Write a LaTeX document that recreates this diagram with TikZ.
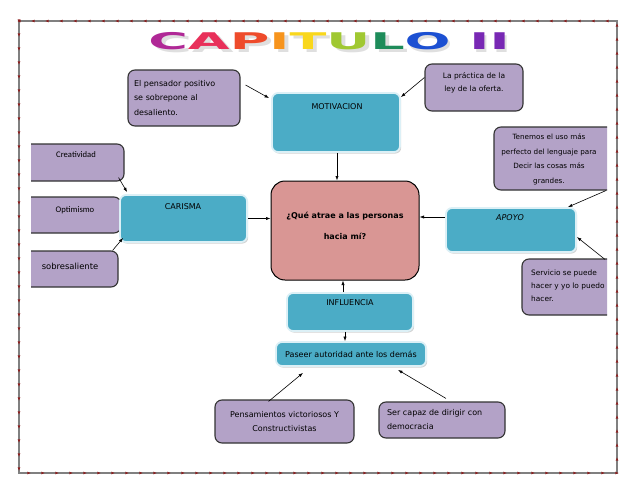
\documentclass[tikz,border=0pt]{standalone}
\usepackage{fontspec}
\setmainfont{DejaVu Sans}
\newfontfamily\calib{Carlito}
\usetikzlibrary{arrows.meta,shadows,decorations.markings,positioning}

\definecolor{lila}{RGB}{179,162,199}
\definecolor{turquesa}{RGB}{75,172,198}
\definecolor{bordeturq}{RGB}{220,240,246}
\definecolor{rosa}{RGB}{217,150,148}
\definecolor{granate}{RGB}{140,30,30}
\definecolor{tA}{RGB}{176,40,150}
\definecolor{tB}{RGB}{232,48,90}
\definecolor{tC}{RGB}{238,75,43}
\definecolor{tD}{RGB}{247,148,29}
\definecolor{tE}{RGB}{249,215,28}
\definecolor{tF}{RGB}{160,200,50}
\definecolor{tG}{RGB}{30,140,90}
\definecolor{tH}{RGB}{28,80,210}
\definecolor{tI}{RGB}{120,40,180}

\tikzset{
  cajalila/.style={draw=black!80, line width=1.1pt, fill=lila, rounded corners=7pt, inner sep=4pt},
  cajaturq/.style={draw=bordeturq, line width=1.8pt, fill=turquesa, rounded corners=6pt,
    drop shadow={shadow xshift=1.2pt, shadow yshift=-1.6pt, opacity=0.35}},
  flecha/.style={-{Latex[length=4.5pt,width=3.2pt]}, line width=0.6pt},
  letra/.style={font=\fontsize{8}{14.5}\selectfont, inner sep=0pt},
  chica/.style={font=\fontsize{7}{14.5}\selectfont, inner sep=0pt},
  marco/.style={draw=gray, line width=1.3pt,
    postaction={decorate, decoration={markings,
      mark=between positions 0 and 1 step 14pt with {\fill[granate] (-1.6pt,-1.3pt) -- (1.6pt,0pt) -- (-1.6pt,1.3pt) -- cycle;}}}}
}

\begin{document}
\begin{tikzpicture}[x=1pt, y=-1pt]
\useasboundingbox (0,0) rectangle (638,493);
% marco
\draw[marco] (19,21) rectangle (617,473);
% titulo
\node[text=gray!25] (sombra) at (332,44.5) {\scalebox{2.35}[1]{\fontsize{23}{23}\selectfont\bfseries CAPITULO II}};
\node (titulo) at (329,41) {\scalebox{2.35}[1]{\fontsize{23}{23}\selectfont\bfseries
  \textcolor{tA}{C}\textcolor{tB}{A}\textcolor{tC}{P}\textcolor{tD}{I}\textcolor{tE}{T}\textcolor{tF}{U}\textcolor{tG}{L}\textcolor{tH}{O} \textcolor{tI}{II}}};

% cajas laterales recortadas
\begin{scope}
\clip (31,0) rectangle (607,493);
\node[cajalila, minimum width=114pt, minimum height=37pt] (creat) at (67,162.5) {};
\node[cajalila, minimum width=111pt, minimum height=36pt] (optim) at (65.5,215) {};
\node[cajalila, minimum width=108pt, minimum height=36pt] (sobre) at (64,269) {};
\node[cajalila, minimum width=131pt, minimum height=63pt] (tenemos) at (559.5,158.5) {};
\node[cajalila, minimum width=108pt, minimum height=56pt] (servicio) at (576,287) {};
\node[chica, font=\calib\fontsize{8.6}{14}\selectfont] (tcreat) at (76,155) {Creatividad};
\node[chica, font=\calib\fontsize{8.6}{14}\selectfont] (toptim) at (75,210) {Optimismo};
\node[letra, font=\fontsize{8.4}{14}\selectfont] (tsobre) at (70,266) {sobresaliente};
\node[chica, font=\fontsize{7.2}{14.5}\selectfont, align=center] (ttenemos) at (549,159.5) {Tenemos el uso más\\perfecto del lenguaje para\\Decir las cosas más\\grandes.};
\node[chica, font=\fontsize{7.4}{13}\selectfont, align=left, anchor=west] (tservicio) at (531,286) {Servicio se puede\\hacer y yo lo puedo\\hacer.};
\end{scope}

\node[cajalila, minimum width=112pt, minimum height=56pt, text width=100pt, align=left, letra] (pensador) at (184,98) {El pensador positivo\\se sobrepone al\\desaliento.};
\node[cajalila, minimum width=98pt, minimum height=47pt] (oferta) at (474,87.5) {};
\node[letra, font=\fontsize{7.5}{13}\selectfont, align=center] (toferta) at (474,83) {La práctica de la\\ley de la oferta.};

\node[cajaturq, minimum width=128pt, minimum height=59pt] (motiv) at (336,122.5) {};
\node[letra] (tmotiv) at (337,107) {MOTIVACION};
\node[cajaturq, minimum width=127pt, minimum height=47pt] (caris) at (183.5,218.5) {};
\node[letra] (tcaris) at (183,207) {CARISMA};
\node[cajaturq, minimum width=130pt, minimum height=44pt] (apoyo) at (511,230) {};
\node[letra] (tapoyo) at (510,218) {\itshape APOYO};
\node[cajaturq, minimum width=126pt, minimum height=38pt] (influ) at (350,312) {};
\node[letra] (tinflu) at (350,303) {INFLUENCIA};
\node[cajaturq, minimum width=150pt, minimum height=24pt, letra] (paseer) at (351,354) {Paseer autoridad ante los demás};

\node[draw=black, line width=1pt, fill=rosa, rounded corners=14pt, minimum width=148pt, minimum height=99pt] (centro) at (345,230.5) {};
\node[letra, font=\fontsize{8}{21}\selectfont\bfseries, align=center] (tcentro) at (345,226) {¿Qué atrae a las personas\\hacia mí?};

\node[cajalila, minimum width=139pt, minimum height=43pt, align=center, letra] (pensam) at (284.5,421.5) {Pensamientos victoriosos Y\\Constructivistas};
\node[cajalila, minimum width=126pt, minimum height=36pt, text width=110pt, align=left, letra, font=\fontsize{8}{14}\selectfont] (capaz) at (442,420) {Ser capaz de dirigir con\\democracia};

% flechas
\draw[flecha] ([shift={(5,-13)}]pensador.east) -- ([shift={(-2,6)}]motiv.north west);
\draw[flecha] ([shift={(0,-10)}]oferta.west) -- ([shift={(0,5)}]motiv.north east);
\draw[flecha] ([xshift=1pt]motiv.south) -- ([xshift=1pt]motiv.south |- centro.north);
\draw[flecha] (caris.east) -- (caris.east -| centro.west);
\draw[flecha] ([shift={(0,-13)}]apoyo.west) -- ([shift={(0,-13)}]apoyo.west -| centro.east);
\draw[flecha] ([xshift=-7pt]influ.north) -- ([xshift=-7pt]influ.north |- centro.south);
\draw[flecha] ([xshift=-5pt]influ.south) -- ([xshift=-5pt]influ.south |- paseer.north);
\draw[flecha] ([shift={(-6,-4)}]creat.south east) -- ([shift={(8,-2)}]caris.north west);
\draw[flecha] ([shift={(-6,0)}]sobre.north east) -- ([shift={(4,-5)}]caris.south west);
\draw[flecha] ([shift={(46.5,0)}]tenemos.south) -- ([shift={(-9,0)}]apoyo.north east);
\draw[flecha] ([shift={(29,1)}]servicio.north) -- ([shift={(0,7)}]apoyo.east);
\draw[flecha] ([shift={(-16,2)}]pensam.north) -- ([shift={(-48,6)}]paseer.south);
\draw[flecha] ([shift={(4,-3)}]capaz.north) -- ([shift={(47,3)}]paseer.south);
\end{tikzpicture}
\end{document}
